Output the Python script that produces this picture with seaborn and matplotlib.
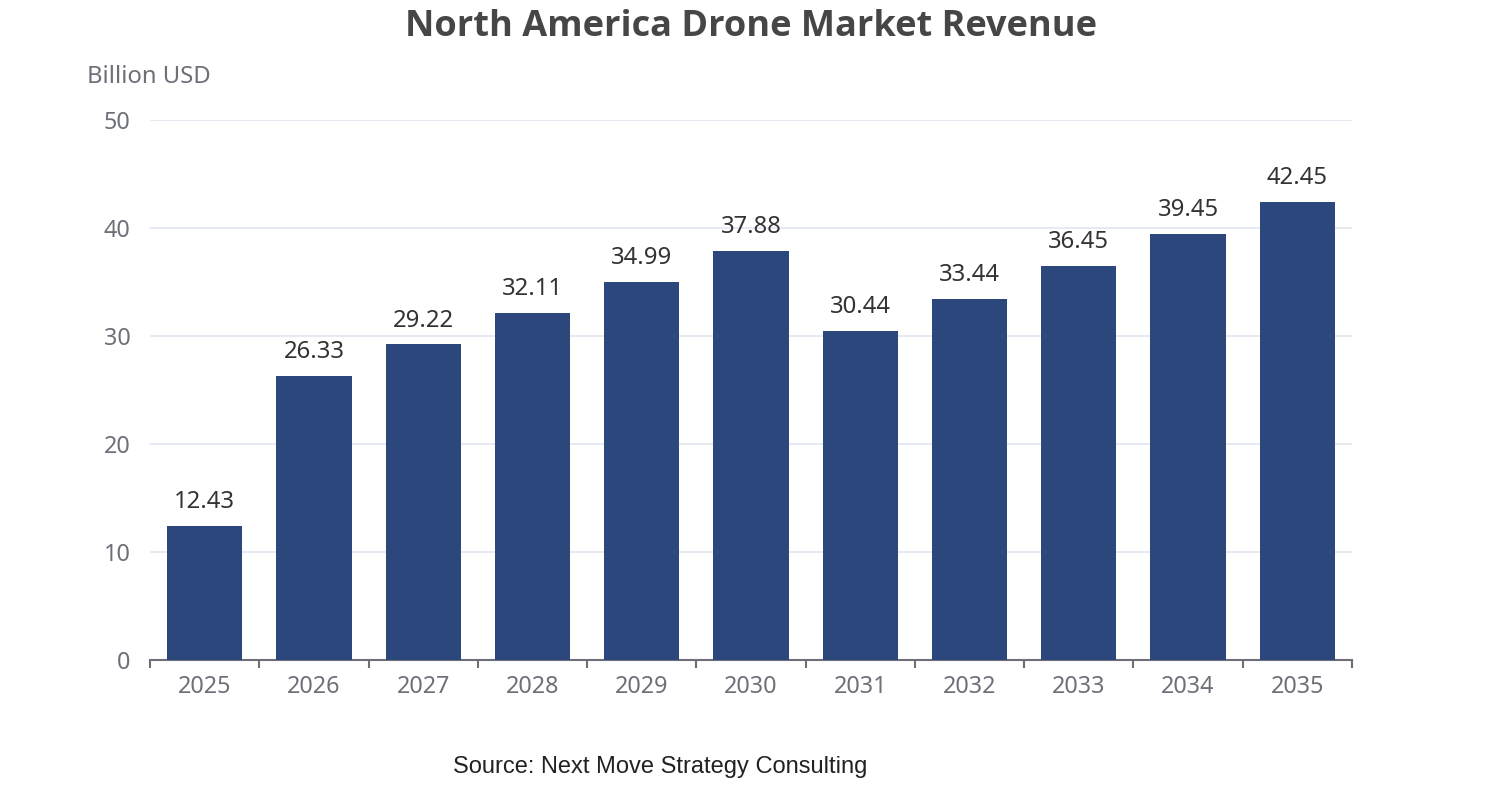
import matplotlib
matplotlib.use("Agg")
import matplotlib.pyplot as plt
import seaborn as sns
import pandas as pd

years = ["2025", "2026", "2027", "2028", "2029", "2030", "2031", "2032", "2033", "2034", "2035"]
revenue = [12.43, 26.33, 29.22, 32.11, 34.99, 37.88, 30.44, 33.44, 36.45, 39.45, 42.45]

df = pd.DataFrame({"year": years, "revenue": revenue})

sns.set_style("white")
plt.rcParams["font.family"] = ["Noto Sans", "DejaVu Sans"]

fig = plt.figure(figsize=(15.02, 8), dpi=100)
ax = fig.add_axes([0.0999, 0.175, 0.8002, 0.675])

sns.barplot(data=df, x="year", y="revenue", color="#2c477b", saturation=1,
            width=0.69, ax=ax, zorder=3, linewidth=0)

ax.set_ylim(0, 50)
ax.set_xlim(-0.5, len(years) - 0.5)
ax.set_yticks([0, 10, 20, 30, 40, 50])
ax.grid(axis="y", color="#e0e6f1", linewidth=1.2, zorder=0)
for s in ["top", "right", "left"]:
    ax.spines[s].set_visible(False)
ax.spines["bottom"].set_color("#6e7079")
ax.spines["bottom"].set_linewidth(1.5)

# ticks between categories
ax.set_xticks([i - 0.5 for i in range(len(years) + 1)], minor=True)
ax.tick_params(axis="x", which="minor", bottom=True, length=6, width=1.5, color="#6e7079")
ax.tick_params(axis="x", which="major", length=0, pad=11, labelsize=16.8, labelcolor="#6e7079")
ax.tick_params(axis="y", length=0, pad=14, labelsize=16.8, labelcolor="#6e7079")
ax.set_xlabel("")
ax.set_ylabel("")

for i, v in enumerate(revenue):
    ax.text(i, v + 1.1, f"{v:.2f}", ha="center", va="bottom", fontsize=17.2, color="#333333")

fig.text(0.058, 0.904, "Billion USD", ha="left", va="center", fontsize=17.2, color="#6e7079")
fig.text(0.5, 0.966, "North America Drone Market Revenue", ha="center", va="center",
         fontsize=26, fontweight="bold", color="#464646", family=["Open Sans", "DejaVu Sans"])
fig.text(0.4394, 0.041, "Source: Next Move Strategy Consulting", ha="center", va="center",
         fontsize=17, color="#222222", family=["Liberation Sans", "DejaVu Sans"])

fig.savefig("out.png", dpi=100)
